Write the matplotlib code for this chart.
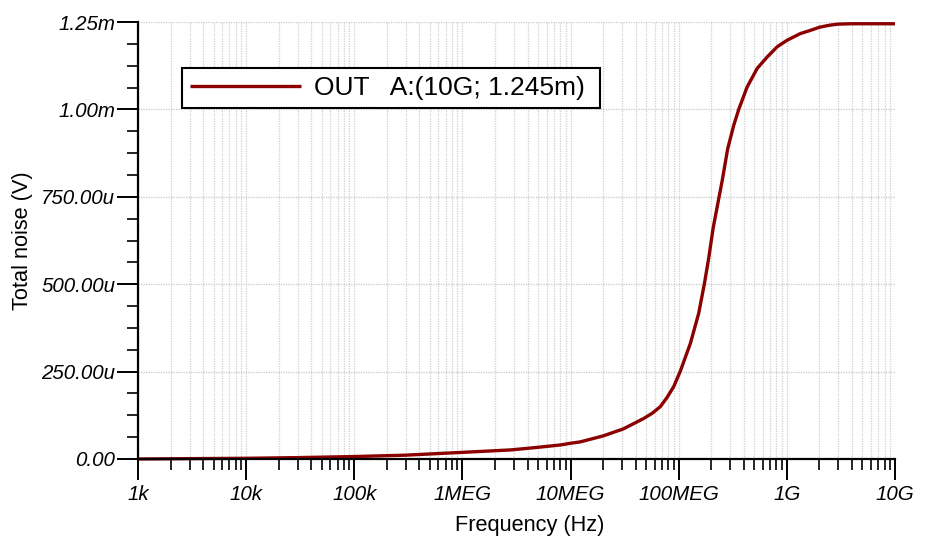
import matplotlib
matplotlib.use("Agg")
import matplotlib.pyplot as plt
from matplotlib.ticker import FixedLocator, NullFormatter, LogLocator

plt.rcParams['font.family'] = ['Liberation Sans', 'DejaVu Sans']

# Frequency (Hz) and total noise (mV)
freq_hz = [1e3, 3e3, 1e4, 3e4, 1e5, 3e5, 1e6, 2.8e6, 4.5e6, 8e6, 1e7, 1.23e7, 2e7,
           3.07e7, 4.75e7, 5.7e7, 6.77e7, 7.8e7, 8.99e7, 1.037e8, 1.283e8, 1.531e8,
           1.729e8, 1.895e8, 2.08e8, 2.33e8, 2.52e8, 2.84e8, 3.23e8, 3.59e8, 4.29e8,
           5.31e8, 6.58e8, 8.13e8, 1.007e9, 1.336e9, 1.65e9, 2.0e9, 2.5e9, 3.0e9,
           4.0e9, 1e10]
noise_mv = [0.0, 0.001, 0.002, 0.004, 0.007, 0.011, 0.019, 0.026, 0.032, 0.040, 0.045,
            0.049, 0.066, 0.086, 0.116, 0.131, 0.150, 0.176, 0.207, 0.252, 0.331, 0.417,
            0.502, 0.575, 0.660, 0.740, 0.795, 0.888, 0.955, 1.000, 1.064,
            1.117, 1.150, 1.179, 1.198, 1.217, 1.226, 1.235, 1.241, 1.244,
            1.245, 1.245]

x_ticks = [1e3, 1e4, 1e5, 1e6, 1e7, 1e8, 1e9, 1e10]
x_labels = ['1k', '10k', '100k', '1MEG', '10MEG', '100MEG', '1G', '10G']
y_ticks = [0.0, 0.25, 0.5, 0.75, 1.0, 1.25]
y_labels = ['0.00', '250.00u', '500.00u', '750.00u', '1.00m', '1.25m']
legend_label = 'OUT   A:(10G; 1.245m) '

fig = plt.figure(figsize=(9.27, 5.38), dpi=100)
ax = fig.add_axes([138/927, 1-459/538, (895-138)/927, (459-22)/538])

ax.plot(freq_hz, noise_mv, color='#8b0000', lw=2.4, label=legend_label, clip_on=False,
        zorder=3, solid_capstyle='butt')

ax.set_xscale('log')
ax.set_xlim(1e3, 1e10)
ax.set_ylim(0, 1.25)

ax.xaxis.set_major_locator(FixedLocator(x_ticks))
ax.set_xticklabels(x_labels)
ax.xaxis.set_minor_locator(LogLocator(base=10, subs=[2, 3, 4, 5, 6, 7, 8, 9], numticks=50))
ax.xaxis.set_minor_formatter(NullFormatter())
ax.yaxis.set_major_locator(FixedLocator(y_ticks))
ax.set_yticklabels(y_labels)
ax.yaxis.set_minor_locator(FixedLocator([i * 0.0625 for i in range(21)]))

for lab in ax.get_xticklabels() + ax.get_yticklabels():
    lab.set_fontstyle('italic')
    lab.set_fontsize(14.8)

ax.tick_params(which='major', direction='out', length=15, width=1.4, color='black')
ax.tick_params(which='minor', direction='out', length=8, width=1.2, color='black')
ax.tick_params(axis='y', which='major', pad=1.5)
ax.tick_params(axis='x', which='major', pad=4)

ax.grid(True, which='major', axis='y', color='#c8c8c8', lw=0.9, ls=(0, (1, 1)))
ax.grid(True, which='both', axis='x', color='#cfcfcf', lw=0.9, ls=(0, (1, 1)))

for s in ['top', 'right']:
    ax.spines[s].set_visible(False)
for s in ['left', 'bottom']:
    ax.spines[s].set_linewidth(1.6)
    ax.spines[s].set_zorder(4)

ax.set_xlabel('Frequency (Hz)', fontsize=15.7)
ax.xaxis.set_label_coords((530 - 138) / 757, (459 - 525) / 437)
ax.xaxis.label.set_verticalalignment('center')
ax.set_ylabel('Total noise (V)', fontsize=15.7, labelpad=6)

leg = ax.legend(loc='upper left', bbox_to_anchor=(0.058, 0.895), fontsize=19,
                frameon=True, fancybox=False, handlelength=4.2, handletextpad=0.5,
                borderpad=0.3, borderaxespad=0)
leg.get_frame().set_edgecolor('black')
leg.get_frame().set_linewidth(1.5)
leg.get_frame().set_alpha(1)

fig.savefig('out.png', dpi=100)
